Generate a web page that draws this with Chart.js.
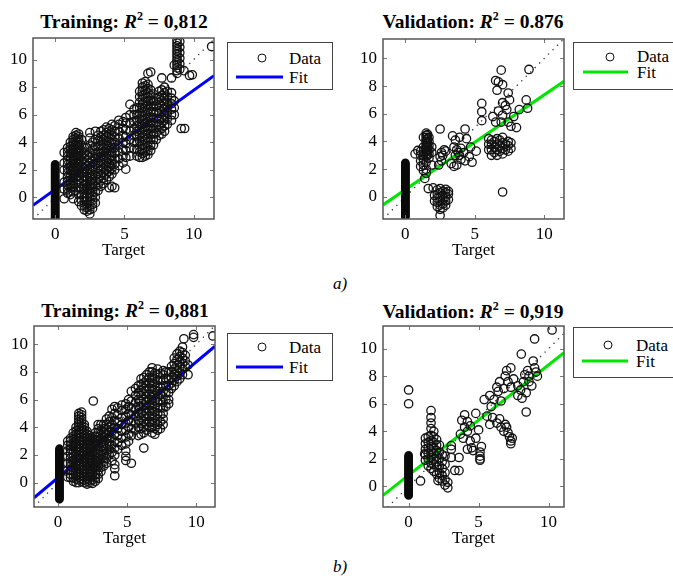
<!DOCTYPE html>
<html><head><meta charset="utf-8">
<script src="https://cdn.jsdelivr.net/npm/chart.js@4.4.0/dist/chart.umd.min.js"></script>
<style>
html,body{margin:0;padding:0;background:#fff;}
body{width:673px;height:576px;overflow:hidden;position:relative;font-family:"Liberation Serif","Times New Roman",serif;color:#000;}
canvas{position:absolute;}
.ttl{position:absolute;font-weight:bold;font-size:19.5px;line-height:20px;white-space:nowrap;transform:translateX(-50%);}
.ttl i{font-style:italic;}
.ttl sup{font-size:12px;line-height:0;position:relative;top:-1px;}
.leg{position:absolute;box-sizing:border-box;border:1px solid #444;background:#fff;}
.lt{position:absolute;font-size:17px;line-height:17px;transform:translateY(-50%);white-space:nowrap;}
.lc{position:absolute;width:7px;height:7px;border:1px solid #111;border-radius:50%;transform:translate(-50%,-50%);}
.ll{position:absolute;height:3px;transform:translateY(-50%);}
.cap{position:absolute;font-style:italic;font-size:17px;line-height:17px;transform:translate(-50%,-50%);}
</style></head><body>

<div class="ttl" style="left:124px;top:12px">Training: <i>R</i><sup>2</sup> = 0,812</div>
<div class="ttl" style="left:473px;top:12px">Validation: <i>R</i><sup>2</sup> = 0.876</div>
<div class="ttl" style="left:125px;top:301px">Training: <i>R</i><sup>2</sup> = 0,881</div>
<div class="ttl" style="left:473px;top:302px">Validation: <i>R</i><sup>2</sup> = 0,919</div>

<div class="leg" style="left:227px;top:42px;width:106px;height:48px"></div>
<div class="lc" style="left:262px;top:58px"></div>
<div class="lt" style="left:289px;top:58px">Data</div>
<div class="ll" style="left:236px;top:77px;width:47px;background:#0000ff"></div>
<div class="lt" style="left:289px;top:77px">Fit</div>

<div class="leg" style="left:573px;top:42px;width:112px;height:48px"></div>
<div class="lc" style="left:610px;top:57px"></div>
<div class="lt" style="left:637px;top:56px">Data</div>
<div class="ll" style="left:583px;top:72px;width:45px;background:#00e600"></div>
<div class="lt" style="left:637px;top:72px">Fit</div>

<div class="leg" style="left:227px;top:333px;width:106px;height:48px"></div>
<div class="lc" style="left:262px;top:347px"></div>
<div class="lt" style="left:289px;top:347px">Data</div>
<div class="ll" style="left:236px;top:367px;width:47px;background:#0000ff"></div>
<div class="lt" style="left:289px;top:367px">Fit</div>

<div class="leg" style="left:573px;top:327px;width:112px;height:51px"></div>
<div class="lc" style="left:608px;top:345px"></div>
<div class="lt" style="left:636px;top:345px">Data</div>
<div class="ll" style="left:582px;top:361px;width:46px;background:#00e600"></div>
<div class="lt" style="left:636px;top:361px">Fit</div>

<div class="cap" style="left:340px;top:283px">a)</div>
<div class="cap" style="left:340px;top:566px">b)</div>

<script>
// ---------- tick labels ----------
const xTicks = [0, 5, 10];
const yTicks = [0, 2, 4, 6, 8, 10];
const axisTitle = 'Target';

// ---------- fit lines: [slope, intercept] ----------
const fitTrainA = [0.72, 0.58];
const fitValA   = [0.685, 0.52];
const fitTrainB = [0.837, 0.36];
const fitValB   = [0.80, 0.82];

// ---------- outputs for target = 0 (dense column) ----------
const trainA_zero = [0, [-1.5,-1.4,-1.3,-1.2,-1.1,-1.0,-0.9,-0.8,-0.7,-0.6,-0.5,-0.4,-0.3,-0.2,-0.1,0,0.1,0.2,0.3,0.4,0.5,0.6,0.7,0.8,0.9,1.0,1.1,1.2,1.3,1.4,1.5,1.6,1.7,1.8,1.9,2.0,2.1,2.2,2.3,2.4]];
const valA_zero   = [0, [-1.45,-1.35,-1.25,-1.15,-1.05,-0.95,-0.85,-0.75,-0.65,-0.55,-0.45,-0.35,-0.25,-0.15,-0.05,0.05,0.15,0.25,0.35,0.45,0.55,0.65,0.75,0.85,0.95,1.05,1.15,1.25,1.35,1.45,1.55,1.65,1.75,1.85,1.95,2.05,2.15,2.25,2.35,2.45]];
const trainB_zero = [0.1, [-1.2,-1.1,-1.0,-0.9,-0.8,-0.7,-0.6,-0.5,-0.4,-0.3,-0.2,-0.1,0,0.1,0.2,0.3,0.4,0.5,0.6,0.7,0.8,0.9,1.0,1.1,1.2,1.3,1.4,1.5,1.6,1.7,1.8,1.9,2.0,2.1,2.2,2.3,2.45]];
const valB_zero   = [0, [-0.65,-0.55,-0.45,-0.35,-0.25,-0.15,-0.05,0.05,0.15,0.25,0.35,0.45,0.55,0.65,0.75,0.85,0.95,1.05,1.15,1.25,1.35,1.45,1.55,1.65,1.75,1.85,1.95,2.05,2.15,2.25]];

// ---------- other data: [target, [outputs...]] ----------
const trainA = [
 [0.65,[3.25,2.5,2.0,1.1,0.6,-0.1]],
 [0.9,[0.3,0.6,0.9,1.2,1.5,1.8,2.1,2.4,2.7,3.0,3.3,3.6]],
 [1.1,[0.2,0.45,0.7,0.95,1.2,1.45,1.7,1.95,2.2,2.45,2.7,2.95,3.2,3.45,3.7,4.0]],
 [1.3,[-0.1,0.4,0.8,1.0,1.2,1.4,1.6,1.8,2.0,2.2,2.4,2.6,2.8,3.0,3.2,3.4,3.6,3.8,4.0,4.2,4.4]],
 [1.5,[0.5,1.0,1.5,1.7,1.9,2.1,2.3,2.5,2.7,2.9,3.1,3.3,3.5,3.7,3.9,4.1,4.3,4.5,4.7]],
 [1.7,[-0.3,0.2,0.7,1.2,1.6,1.8,2.0,2.2,2.4,2.6,2.8,3.0,3.2,3.4,3.6,3.8,4.0,4.2,4.4,4.6]],
 [1.9,[-0.6,-0.2,0.2,0.6,1.0,1.4,1.8,2.2,2.6,3.0,3.4,3.8,4.2]],
 [2.1,[-0.9,-0.6,-0.3,0,0.3,0.6,0.9,1.2,1.5,1.8,2.1,2.4,2.8,3.2,3.6]],
 [2.3,[-1.0,-0.75,-0.5,-0.25,0,0.25,0.5,0.75,1.0,1.25,1.5,1.75,2.0,2.3,2.7,3.1,3.6]],
 [2.5,[-1.2,-0.9,-0.6,-0.3,0,0.3,0.6,0.9,1.2,1.5,1.8,2.1,2.5,2.9,3.3,3.8,4.3,4.7]],
 [2.7,[-0.8,-0.5,-0.2,0.1,0.4,0.7,1.0,1.3,1.6,1.9,2.2,2.6,3.0,3.5,4.0]],
 [2.9,[-0.4,0,0.4,0.8,1.2,1.6,2.0,2.4,2.8,3.2,3.7,4.2,4.8]],
 [3.1,[0.5,0.9,1.3,1.7,2.1,2.5,2.9,3.3,3.7,4.1,4.5]],
 [3.3,[0.8,1.2,1.6,2.0,2.3,2.6,2.9,3.2,3.5,3.8,4.1,4.4,4.8]],
 [3.5,[1.0,1.4,1.8,2.1,2.4,2.7,3.0,3.3,3.6,3.9,4.2,4.5,4.9]],
 [3.7,[1.3,1.7,2.0,2.3,2.6,2.9,3.2,3.5,3.8,4.1,4.4,4.7,5.1]],
 [3.9,[0.7,1.5,1.9,2.2,2.5,2.8,3.1,3.4,3.7,4.0,4.3,4.6,5.0]],
 [4.1,[0.8,1.7,2.1,2.4,2.7,3.0,3.3,3.6,3.9,4.2,4.5,4.9,5.3]],
 [4.3,[0.7,2.0,2.4,2.8,3.2,3.6,4.0,4.4,4.8,5.2]],
 [4.6,[2.3,2.8,3.3,3.8,4.3,4.8,5.3,5.6]],
 [4.9,[2.5,3.0,3.5,4.0,4.5,5.0,5.5]],
 [5.1,[2.05,2.9,3.4,3.9,4.4,4.9,5.4,5.8]],
 [5.4,[3.0,3.6,4.2,4.8,5.4,6.0,6.75]],
 [5.7,[3.5,4.0,4.5,5.0,5.5,6.0,6.4]],
 [5.9,[3.0,3.5,4.0,4.4,4.8,5.2,5.6,6.0,6.5]],
 [6.1,[2.9,3.3,3.7,4.1,4.5,4.9,5.3,5.7,6.1,6.5,6.9,7.3,7.7]],
 [6.3,[2.9,3.2,3.5,3.8,4.1,4.4,4.7,5.0,5.3,5.6,5.9,6.2,6.5,6.8,7.1,7.4,7.7,8.0,8.3]],
 [6.5,[3.0,3.3,3.6,3.9,4.2,4.5,4.8,5.1,5.4,5.7,6.0,6.3,6.6,6.9,7.2,7.5,7.8,8.1,8.4]],
 [6.7,[3.1,3.4,3.7,4.0,4.3,4.6,4.9,5.2,5.5,5.8,6.1,6.4,6.7,7.0,7.3,7.6,7.9,8.2,9.0]],
 [6.9,[3.4,3.8,4.2,4.6,5.0,5.4,5.8,6.2,6.6,7.0,7.4,7.8,9.1]],
 [7.1,[3.8,4.2,4.6,5.0,5.4,5.8,6.2,6.6,7.0,7.5]],
 [7.3,[4.2,4.7,5.2,5.7,6.2,6.7,7.2]],
 [7.5,[4.5,4.9,5.3,5.7,6.1,6.5,6.9,7.3,7.7]],
 [7.7,[4.6,5.0,5.4,5.8,6.2,6.6,7.0,7.4,7.8,8.67]],
 [7.9,[4.8,5.2,5.6,6.0,6.4,6.8,7.2,7.6,8.0]],
 [8.1,[5.3,5.7,6.1,6.5,6.9,7.3,7.7]],
 [8.4,[5.6,6.0,6.4,6.8,7.2,7.6,8.67]],
 [8.6,[6.0,6.5,7.0,9.6]],
 [8.8,[9.0,9.2,9.4,9.6,9.8,10.0,10.2,10.4,10.6,10.8,11.0,11.2,11.4]],
 [9.0,[9.3,9.7,10.1,10.5,10.9,11.3]],
 [9.1,[5.0]],
 [9.3,[9.2]],
 [9.35,[5.0]],
 [9.7,[8.85]],
 [9.9,[8.9]],
 [11.3,[10.95]]
];

const valA = [
 [0.7,[3.1]],
 [0.9,[3.35]],
 [1.1,[2.2,2.6,3.0,3.3]],
 [1.3,[1.9,2.3,2.7,3.0,3.3,3.6,4.3]],
 [1.4,[1.33]],
 [1.5,[1.7,2.0,2.5,2.9,3.1,3.25,3.4,3.55,3.7,3.85,4.0,4.15,4.3,4.45,4.6]],
 [1.6,[3.0,3.3,3.6,3.9,4.2,4.5]],
 [1.65,[0.6]],
 [1.7,[2.8,3.1,3.4,3.7,4.0,4.3]],
 [1.9,[2.3,3.2,3.6]],
 [2.0,[0.65]],
 [2.1,[-0.3,0.1]],
 [2.3,[-0.7,-0.4,-0.1,0.2,0.5]],
 [2.4,[2.3]],
 [2.5,[-1.35,-0.9,-0.6,-0.3,0,0.3,0.6,2.9,4.9]],
 [2.6,[2.6,3.2]],
 [2.7,[-0.8,-0.5,-0.2,0.1,0.4,3.0]],
 [2.8,[3.4]],
 [2.9,[-0.6,-0.3,0,0.3,0.55,3.3]],
 [3.1,[-0.2,0.2,0.4]],
 [3.3,[2.4]],
 [3.4,[4.4]],
 [3.5,[2.2,3.6]],
 [3.6,[3.0,4.1]],
 [3.7,[2.3,3.4]],
 [3.8,[3.2]],
 [3.9,[3.0,4.3]],
 [4.0,[2.7,3.5]],
 [4.2,[3.2]],
 [4.3,[2.6,4.9]],
 [4.4,[4.2]],
 [4.6,[2.9]],
 [4.7,[3.6]],
 [4.8,[2.5]],
 [5.1,[3.3]],
 [5.5,[5.5,6.15,6.75]],
 [6.0,[3.4,3.8,4.2]],
 [6.2,[3.0,3.4,3.8,4.1]],
 [6.3,[5.8]],
 [6.4,[3.2,3.6,4.0]],
 [6.5,[5.4,8.4]],
 [6.6,[3.0,3.4,3.8,4.2,7.7]],
 [6.7,[6.2,8.3]],
 [6.8,[3.3,3.7,4.1]],
 [6.9,[5.4,9.15]],
 [7.0,[0.35,3.1,3.5,3.9,4.3,5.9,6.8,8.1]],
 [7.2,[3.4,3.8,6.6]],
 [7.3,[6.3]],
 [7.4,[3.3,3.7,4.0,5.4,7.5]],
 [7.5,[7.0]],
 [7.6,[3.5,3.9,5.1]],
 [7.8,[5.8]],
 [8.0,[5.0]],
 [8.2,[6.3]],
 [8.7,[7.0]],
 [8.8,[6.4]],
 [8.9,[9.2]]
];

const trainB = [
 [0.7,[0.4,0.9,1.4,1.9,2.3,2.7,3.0]],
 [0.9,[0.36,0.6,0.9,1.2,1.5,1.8,2.1,2.4,2.7,3.0,3.2]],
 [1.1,[0.1,0.35,0.6,0.85,1.1,1.35,1.6,1.85,2.1,2.35,2.6,2.85,3.1,3.35,3.6]],
 [1.3,[0,0.25,0.5,0.75,1.0,1.25,1.5,1.75,2.0,2.25,2.5,2.75,3.0,3.25,3.5,3.75,4.0]],
 [1.5,[0,0.2,0.4,0.6,0.8,1.0,1.2,1.4,1.6,1.8,2.0,2.2,2.4,2.6,2.8,3.0,3.2,3.4,3.6,3.8,4.0,4.2,4.4,4.6,4.8,5.0]],
 [1.7,[0.1,0.3,0.5,0.7,0.9,1.1,1.3,1.5,1.7,1.9,2.1,2.3,2.5,2.7,2.9,3.1,3.3,3.5,3.7,3.9,4.1,4.3,4.5,4.7,4.9,5.1]],
 [1.9,[0,0.2,0.4,0.6,0.8,1.0,1.2,1.4,1.6,1.8,2.0,2.2,2.4,2.6,2.8,3.0,3.2,3.4,3.6,3.8,4.0,4.2]],
 [2.1,[-0.1,0.1,0.3,0.5,0.7,0.9,1.1,1.3,1.5,1.7,1.9,2.1,2.3,2.5,2.7,2.9,3.1,3.3,3.5,3.7]],
 [2.3,[0,0.2,0.4,0.6,0.8,1.0,1.2,1.4,1.6,1.8,2.0,2.2,2.4,2.6,2.8,3.0,3.2,3.4]],
 [2.5,[-0.05,0.2,0.45,0.7,0.95,1.2,1.45,1.7,1.95,2.2,2.45,2.7,2.95,3.2]],
 [2.55,[5.9]],
 [2.7,[0.1,0.35,0.6,0.85,1.1,1.35,1.6,1.85,2.1,2.35,2.6,2.85,3.1,3.35,3.6]],
 [2.9,[0.3,0.6,0.9,1.2,1.5,1.8,2.1,2.4,2.7,3.0,3.3,3.6,3.9,4.2]],
 [3.1,[0.8,1.1,1.4,1.7,2.0,2.3,2.6,2.9,3.2,3.5,3.8,4.2]],
 [3.3,[1.2,1.5,1.8,2.1,2.4,2.7,3.0,3.3,3.6,3.9,4.2]],
 [3.5,[1.4,1.75,2.1,2.45,2.8,3.15,3.5,3.85,4.2,4.6]],
 [3.7,[2.0,2.4,2.8,3.2,3.6,4.0,4.4,4.8]],
 [3.9,[1.6,2.2,2.7,3.2,3.7,4.2,4.7,5.3]],
 [4.1,[0.5,1.0,1.3,2.0,2.5,3.0,3.5,4.0,4.5,5.0,5.5]],
 [4.3,[2.4,2.9,3.4,3.9,4.4,4.9,5.4]],
 [4.6,[2.7,3.2,3.7,4.2,4.7,5.2,5.6]],
 [4.9,[1.6,1.9,2.3,2.8,3.3,3.8,4.3,4.8,5.3,5.7]],
 [5.1,[3.0,3.5,4.0,4.5,5.0,5.5,6.0]],
 [5.3,[1.4,3.4,3.9,4.4,4.9,5.4,5.9,6.6]],
 [5.6,[3.8,4.3,4.8,5.3,5.8,6.3,6.8]],
 [5.8,[3.4,4.0,4.5,5.0,5.5,6.0,6.5,7.0]],
 [6.0,[3.5,3.9,4.3,4.7,5.1,5.5,5.9,6.3,6.7,7.1,7.5]],
 [6.2,[2.5,3.6,4.0,4.4,4.8,5.2,5.6,6.0,6.4,6.8,7.2,7.6]],
 [6.4,[3.8,4.2,4.6,5.0,5.4,5.8,6.2,6.6,7.0,7.4,7.8]],
 [6.6,[4.0,4.4,4.8,5.2,5.6,6.0,6.4,6.8,7.2,7.6,8.0]],
 [6.8,[3.6,4.0,4.4,4.8,5.2,5.6,6.0,6.4,6.8,7.2,7.6,8.0,8.3]],
 [7.0,[3.5,3.9,4.3,4.7,5.1,5.5,5.9,6.3,6.7,7.1,7.5,7.9]],
 [7.2,[3.8,4.2,4.6,5.0,5.4,5.8,6.2,6.6,7.0,7.4,7.8,8.2]],
 [7.4,[3.9,4.4,4.9,5.4,5.9,6.4,6.9,7.4,7.9]],
 [7.6,[4.2,4.6,5.0,5.4,5.8,6.2,6.6,7.0,7.4,7.8,8.1]],
 [7.8,[5.5,6.0,6.5,7.0,7.5,8.0]],
 [8.0,[5.7,6.0,6.5,7.0,7.5,8.0]],
 [8.2,[6.8,7.2,7.6,8.0,8.4]],
 [8.4,[7.0,7.4,7.8,8.2,8.6,9.0]],
 [8.6,[7.3,7.7,8.1,8.5,8.9,9.3]],
 [8.8,[7.5,7.9,8.3,8.7,9.1,9.5]],
 [9.0,[7.8,8.2,8.6,9.0,9.4,9.8]],
 [9.1,[10.4]],
 [9.2,[8.4,8.8,9.2]],
 [9.4,[7.8,8.5]],
 [9.8,[10.5,10.7]],
 [11.2,[10.6]]
];

const valB = [
 [0,[6.0,7.0]],
 [0.85,[0.4]],
 [1.15,[2.36]],
 [1.2,[1.9,2.3,2.7,3.1,3.5]],
 [1.4,[1.5,2.0,2.4,2.8,3.2,3.6]],
 [1.6,[1.3,1.7,2.1,2.5,2.9,3.3,3.7,4.2,4.6,5.0,5.5]],
 [1.8,[1.1,1.6,2.0,2.4,2.8,3.2,3.6,4.0]],
 [2.0,[0.9,1.4,1.8,2.2,2.6,3.0,3.4]],
 [2.1,[0.43]],
 [2.2,[0.6,1.0,1.5,2.0,2.5,3.0]],
 [2.4,[0.4,0.8,1.3,1.8,2.3]],
 [2.6,[0.1,0.5,1.0,1.6,2.2]],
 [2.8,[-0.1,0.3]],
 [3.05,[2.1,2.7,2.96]],
 [3.3,[1.16]],
 [3.6,[1.15,2.1]],
 [3.7,[3.8]],
 [3.8,[4.8]],
 [3.9,[3.5]],
 [4.0,[4.3,5.2]],
 [4.2,[2.7,4.0,4.7]],
 [4.4,[3.3,4.4]],
 [4.5,[2.8]],
 [4.6,[2.6]],
 [4.8,[3.5,5.3]],
 [5.0,[4.1]],
 [5.1,[1.9,2.0,2.2,2.5]],
 [5.2,[2.9]],
 [5.4,[6.3]],
 [5.6,[5.1]],
 [5.8,[4.5,6.6]],
 [5.9,[5.8]],
 [6.0,[5.0]],
 [6.1,[6.3]],
 [6.3,[4.6,7.2]],
 [6.4,[6.9]],
 [6.5,[4.9,7.6]],
 [6.6,[4.3,6.2]],
 [6.8,[4.0,7.1]],
 [6.9,[4.5,8.0]],
 [7.0,[4.3,8.4]],
 [7.1,[3.9,7.6]],
 [7.2,[3.6]],
 [7.3,[3.1,3.3,7.2,8.6]],
 [7.4,[3.5]],
 [7.5,[7.8]],
 [7.8,[6.6,7.3]],
 [8.0,[7.0]],
 [8.05,[9.6]],
 [8.1,[6.4]],
 [8.2,[7.6]],
 [8.3,[8.1]],
 [8.4,[5.4,6.8]],
 [8.5,[8.4]],
 [8.6,[7.6,8.0]],
 [8.8,[7.3]],
 [8.9,[9.1]],
 [9.0,[8.6,10.7]],
 [9.1,[8.3]],
 [9.2,[8.0]],
 [10.25,[11.35]]
];

// ---------- layout (pixels) and axis ranges ----------
const panels = [
 {zero: trainA_zero, data: trainA, fit: fitTrainA, color: '#0000ff', area: [33, 38, 181, 181],  xr: [-1.6, 11.47],  yr: [-1.57, 11.57]},
 {zero: valA_zero,   data: valA,   fit: fitValA,   color: '#00e600', area: [383, 39, 181, 180], xr: [-1.61, 11.42], yr: [-1.6, 11.4]},
 {zero: trainB_zero, data: trainB, fit: fitTrainB, color: '#0000ff', area: [34, 326, 181, 181], xr: [-1.74, 11.35], yr: [-1.76, 11.32]},
 {zero: valB_zero,   data: valB,   fit: fitValB,   color: '#00e600', area: [383, 326, 181, 181],xr: [-1.83, 11.1],  yr: [-1.49, 11.64]}
];

const FONT = "'Liberation Serif','Times New Roman',serif";
const YW = 33, XH = 45, PT = 24, PR = 12;

const framePlugin = {
  id: 'frame',
  afterDatasetsDraw(chart) {
    const {ctx, chartArea: a} = chart;
    const sx = chart.scales.x, sy = chart.scales.y;
    ctx.save();
    ctx.strokeStyle = '#777';
    ctx.lineWidth = 1;
    ctx.beginPath();
    xTicks.forEach(v => {
      const p = Math.round(sx.getPixelForValue(v)) + 0.5;
      ctx.moveTo(p, a.bottom); ctx.lineTo(p, a.bottom - 4);
      ctx.moveTo(p, a.top); ctx.lineTo(p, a.top + 4);
    });
    yTicks.forEach(v => {
      const p = Math.round(sy.getPixelForValue(v)) + 0.5;
      ctx.moveTo(a.left, p); ctx.lineTo(a.left + 4, p);
      ctx.moveTo(a.right, p); ctx.lineTo(a.right - 4, p);
    });
    ctx.stroke();
    ctx.strokeStyle = '#555';
    ctx.lineWidth = 1.5;
    ctx.strokeRect(a.left, a.top, a.right - a.left, a.bottom - a.top);
    ctx.restore();
  }
};

panels.forEach(p => {
  const [l, t, w, h] = p.area;
  const cv = document.createElement('canvas');
  cv.width = YW + w + PR;
  cv.height = PT + h + XH;
  cv.style.left = (l - YW) + 'px';
  cv.style.top = (t - PT) + 'px';
  document.body.appendChild(cv);

  const pts = [];
  p.data.forEach(c => c[1].forEach(y => pts.push({x: c[0], y: y})));
  const zeroPts = p.zero[1].map(y => ({x: p.zero[0], y: y}));
  const x0 = p.xr[0], x1 = p.xr[1];
  const fitPts = [{x: x0, y: p.fit[0] * x0 + p.fit[1]}, {x: x1, y: p.fit[0] * x1 + p.fit[1]}];
  const lo = Math.min(p.xr[0], p.yr[0]), hi = Math.max(p.xr[1], p.yr[1]);
  const idPts = [{x: lo, y: lo}, {x: hi, y: hi}];

  const tickFont = {family: FONT, size: 17};
  new Chart(cv, {
    type: 'scatter',
    data: {datasets: [
      {label: 'Data', data: pts, order: 0, clip: 0, pointStyle: 'circle', pointRadius: 4.2, pointHoverRadius: 4.2,
       pointBorderWidth: 1.3, borderColor: '#121212', backgroundColor: 'rgba(0,0,0,0)'},
      {label: 'Data (target 0)', data: zeroPts, order: 0, clip: 0, pointStyle: 'circle', pointRadius: 3.1, pointHoverRadius: 3.1,
       pointBorderWidth: 2.6, borderColor: '#0a0a0a', backgroundColor: 'rgba(0,0,0,0)'},
      {label: 'Fit', data: fitPts, order: 1, clip: 0, showLine: true, borderColor: p.color, borderWidth: 3,
       pointRadius: 0, fill: false},
      {label: 'Y = T', data: idPts, order: 2, clip: 0, showLine: true, borderColor: '#333', borderWidth: 1.3,
       borderDash: [1.3, 5], pointRadius: 0, fill: false}
    ]},
    options: {
      responsive: false, animation: false, events: [],
      layout: {padding: {top: PT, right: PR, left: 0, bottom: 0}},
      plugins: {legend: {display: false}, tooltip: {enabled: false}, title: {display: false}},
      scales: {
        x: {type: 'linear', min: p.xr[0], max: p.xr[1],
            afterBuildTicks: s => { s.ticks = xTicks.map(v => ({value: v})); },
            afterFit: s => { s.height = XH; },
            grid: {display: false, drawTicks: false}, border: {display: false},
            ticks: {color: '#000', font: tickFont, padding: 5, maxRotation: 0, autoSkip: false},
            title: {display: true, text: axisTitle, color: '#000', font: tickFont, padding: {top: 0, bottom: 3}}},
        y: {type: 'linear', min: p.yr[0], max: p.yr[1],
            afterBuildTicks: s => { s.ticks = yTicks.map(v => ({value: v})); },
            afterFit: s => { s.width = YW; },
            grid: {display: false, drawTicks: false}, border: {display: false},
            ticks: {color: '#000', font: tickFont, padding: 6, autoSkip: false}}
      }
    },
    plugins: [framePlugin]
  });
});
</script>
</body></html>
